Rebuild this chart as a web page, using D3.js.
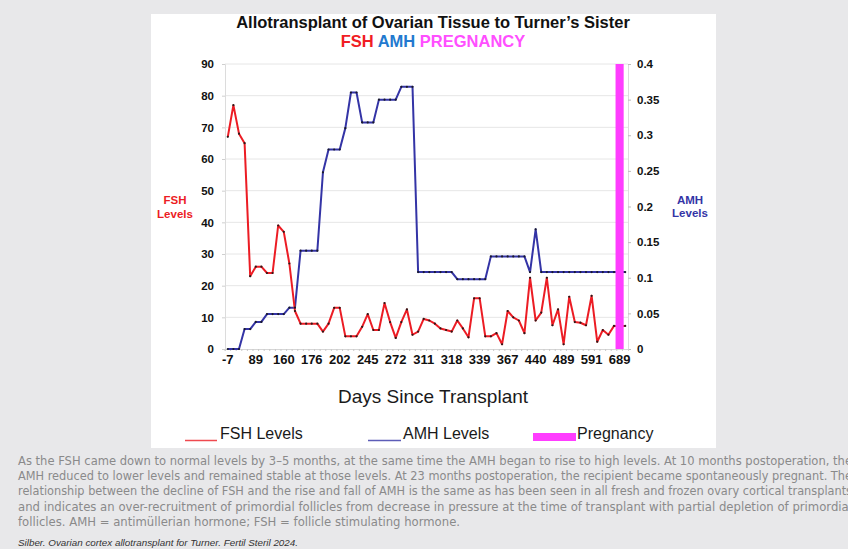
<!DOCTYPE html>
<html><head><meta charset="utf-8">
<script src="https://cdn.jsdelivr.net/npm/d3@7"></script>
<style>
html,body{margin:0;padding:0;background:#e8e8ea;}
svg{display:block;}
</style></head><body>
<svg id="c" width="848" height="549"></svg>
<script>
// ---- data ----
const dayLabels = ["-7","89","160","176","202","245","272","311","318","339","367","440","489","591","689"];
const labelIndex = [0,5,10,15,20,25,30,35,40,45,50,55,60,65,70];
const fshLevels = [67,77,68,65,23,26,26,24,24,39,
  37,27,12,8,8,8,8,5.5,8,13,
  13,4,4,4,7,11,6,6,14.5,8.5,
  3.5,8.5,12.5,4.5,5.5,9.5,9,8,6.5,6,
  5.5,9,6.5,3.7,16,16,4,4,5,1.5,
  12,10,9,5,22.5,9,11.5,22.5,7.5,12.5,
  1.5,16.5,8.5,8.3,7.5,16.8,2.3,6,4.5,7.3,
  7.3,7.3];
const amhLevels = [0,0,0,0.028,0.028,0.038,0.038,0.049,0.049,0.049,
  0.049,0.058,0.058,0.138,0.138,0.138,0.138,0.248,0.28,0.28,
  0.28,0.31,0.36,0.36,0.318,0.318,0.318,0.35,0.35,0.35,
  0.35,0.368,0.368,0.368,0.108,0.108,0.108,0.108,0.108,0.108,
  0.108,0.098,0.098,0.098,0.098,0.098,0.098,0.13,0.13,0.13,
  0.13,0.13,0.13,0.13,0.108,0.168,0.108,0.108,0.108,0.108,
  0.108,0.108,0.108,0.108,0.108,0.108,0.108,0.108,0.108,0.108,
  0.108,0.108];
const pregnancyIndex = [70];
const pregnancyLevel = [90];
const fshTicks = [0,10,20,30,40,50,60,70,80,90];
const amhTicks = [0,0.05,0.1,0.15,0.2,0.25,0.3,0.35,0.4];
const captionLines = [
 "As the FSH came down to normal levels by 3–5 months, at the same time the AMH began to rise to high levels. At 10 months postoperation, the",
 "AMH reduced to lower levels and remained stable at those levels. At 23 months postoperation, the recipient became spontaneously pregnant. The",
 "relationship between the decline of FSH and the rise and fall of AMH is the same as has been seen in all fresh and frozen ovary cortical transplants",
 "and indicates an over-recruitment of primordial follicles from decrease in pressure at the time of transplant with partial depletion of primordial",
 "follicles. AMH = antimüllerian hormone; FSH = follicle stimulating hormone."
];
const captionWidths = [834, 834, 834, 834, 442];
const citation = "Silber. Ovarian cortex allotransplant for Turner. Fertil Steril 2024.";

// ---- drawing ----
const FONT = "'Liberation Sans', Arial, Helvetica, sans-serif";
const FSH_C = "#ec1c24", AMH_C = "#3434a6", PREG_C = "#ff3dff";
const svg = d3.select("#c");
const P = {l:225, r:628, t:64, b:349};

svg.append("rect").attr("x",151).attr("y",14).attr("width",565).attr("height",434).attr("fill","#fff");

const cats = d3.range(fshLevels.length);
const x = d3.scaleBand().domain(cats).range([P.l, P.r]).padding(0);
const cx = i => x(i) + x.bandwidth()/2;
const yL = d3.scaleLinear().domain([0,90]).range([P.b, P.t]);
const yR = d3.scaleLinear().domain([0,0.4]).range([P.b, P.t]);

// gridlines
svg.append("g").selectAll("line").data(fshTicks.filter(d=>d>0)).join("line")
  .attr("x1",P.l).attr("x2",P.r).attr("y1",d=>yL(d)).attr("y2",d=>yL(d))
  .attr("stroke","#e6e6e6").attr("stroke-width",1);

// left axis
const gl = svg.append("g").attr("transform",`translate(${P.l},0)`)
  .call(d3.axisLeft(yL).tickValues(fshTicks).tickSize(3).tickPadding(8).tickFormat(d3.format("d")));
gl.select(".domain").attr("stroke","#dcdcdc");
gl.selectAll(".tick line").attr("stroke","#cfcfcf");
gl.selectAll("text").attr("font-family",FONT).attr("font-weight","bold").attr("font-size","11.5px").attr("fill","#111");

// right axis
const gr = svg.append("g").attr("transform",`translate(${P.r},0)`)
  .call(d3.axisRight(yR).tickValues(amhTicks).tickSize(3).tickPadding(6).tickFormat(d=>String(+d.toFixed(2))));
gr.select(".domain").attr("stroke","#dcdcdc");
gr.selectAll(".tick line").attr("stroke","#bdbdbd");
gr.selectAll("text").attr("font-family",FONT).attr("font-weight","bold").attr("font-size","11.5px").attr("fill","#111");

// bottom axis: category ticks
const gt = svg.append("g").attr("transform",`translate(0,${P.b})`)
  .call(d3.axisBottom(x).tickValues(cats).tickSize(2).tickFormat(""));
gt.select(".domain").attr("stroke","#d6d6d6");
gt.selectAll(".tick line").attr("stroke","#c8c8c8").attr("transform",`translate(${-x.bandwidth()/2},0)`);

const gb = svg.append("g").attr("transform",`translate(0,${P.b})`)
  .call(d3.axisBottom(x).tickValues(labelIndex).tickSize(0)
    .tickFormat(i=>dayLabels[labelIndex.indexOf(i)]));
gb.select(".domain").remove();
gb.selectAll("text").attr("y",15).attr("dy","0").attr("font-family",FONT)
  .attr("font-weight","bold").attr("font-size","13px").attr("fill","#111");

// lines
const lineF = d3.line().x((d,i)=>cx(i)).y(d=>yL(d));
const lineA = d3.line().x((d,i)=>cx(i)).y(d=>yR(d));
svg.append("path").datum(amhLevels).attr("d",lineA).attr("fill","none")
  .attr("stroke",AMH_C).attr("stroke-width",2).attr("stroke-linejoin","round");
svg.append("path").datum(fshLevels).attr("d",lineF).attr("fill","none")
  .attr("stroke",FSH_C).attr("stroke-width",2).attr("stroke-linejoin","round");
// markers
svg.append("g").selectAll("circle").data(amhLevels).join("circle")
  .attr("cx",(d,i)=>cx(i)).attr("cy",d=>yR(d)).attr("r",1.1).attr("fill","#1a1a2a");
svg.append("g").selectAll("circle").data(fshLevels).join("circle")
  .attr("cx",(d,i)=>cx(i)).attr("cy",d=>yL(d)).attr("r",1.1).attr("fill","#2a1a1a");

// pregnancy bar
const bw = x.bandwidth()*1.45;
svg.append("g").selectAll("rect").data(pregnancyIndex).join("rect")
  .attr("x",i=>cx(i)-bw/2).attr("width",bw)
  .attr("y",(i,k)=>yL(pregnancyLevel[k])).attr("height",(i,k)=>yL(0)-yL(pregnancyLevel[k]))
  .attr("fill",PREG_C);

// titles
svg.append("text").attr("x",433).attr("y",28).attr("text-anchor","middle")
  .attr("font-family",FONT).attr("font-weight","bold").attr("font-size","16.5px").attr("fill","#111")
  .text("Allotransplant of Ovarian Tissue to Turner’s Sister");
const sub = svg.append("text").attr("x",433).attr("y",47).attr("text-anchor","middle")
  .attr("font-family",FONT).attr("font-weight","bold").attr("font-size","16.5px");
sub.append("tspan").attr("fill","#f01d24").text("FSH ");
sub.append("tspan").attr("fill","#2279cf").text("AMH ");
sub.append("tspan").attr("fill","#ff4fff").text("PREGNANCY");

// axis titles (separate texts so lines do not overlap)
const tFont = {family:FONT, size:"11.5px"};
[["FSH",204],["Levels",217.5]].forEach(([t,yy])=>{
  svg.append("text").attr("x",175).attr("y",yy).attr("text-anchor","middle")
    .attr("font-family",tFont.family).attr("font-weight","bold").attr("font-size",tFont.size)
    .attr("fill",FSH_C).text(t);
});
[["AMH",203.5],["Levels",217]].forEach(([t,yy])=>{
  svg.append("text").attr("x",690).attr("y",yy).attr("text-anchor","middle")
    .attr("font-family",tFont.family).attr("font-weight","bold").attr("font-size",tFont.size)
    .attr("fill",AMH_C).text(t);
});

svg.append("text").attr("x",433).attr("y",403).attr("text-anchor","middle")
  .attr("font-family",FONT).attr("font-size","19px").attr("fill","#1a1a1a")
  .text("Days Since Transplant");

// legend
const lg = svg.append("g").attr("font-family",FONT).attr("font-size","16px").attr("fill","#1a1a1a");
lg.append("line").attr("x1",185).attr("x2",217).attr("y1",440.5).attr("y2",440.5).attr("stroke",FSH_C).attr("stroke-width",1.5).attr("opacity",0.8);
lg.append("text").attr("x",220).attr("y",439).text("FSH Levels");
lg.append("line").attr("x1",368).attr("x2",401).attr("y1",440.5).attr("y2",440.5).attr("stroke",AMH_C).attr("stroke-width",1.5).attr("opacity",0.8);
lg.append("text").attr("x",403).attr("y",439).text("AMH Levels");
lg.append("rect").attr("x",533).attr("y",433).attr("width",43).attr("height",8).attr("fill",PREG_C);
lg.append("text").attr("x",577).attr("y",439).text("Pregnancy");

// caption
const cap = svg.append("g").attr("font-family","'Liberation Sans Narrow','DejaVu Sans Condensed','Liberation Sans',sans-serif")
  .attr("font-size","12.5px").attr("fill","#8a8a8a");
cap.selectAll("text").data(captionLines).join("text")
  .attr("x",18).attr("y",(d,i)=>465+i*15.2)
  .attr("textLength",(d,i)=>captionWidths[i]).attr("lengthAdjust","spacingAndGlyphs")
  .text(d=>d);
svg.append("text").attr("x",18).attr("y",546).attr("font-family",FONT).attr("font-style","italic")
  .attr("font-size","8.5px").attr("fill","#333").attr("textLength",280).attr("lengthAdjust","spacingAndGlyphs")
  .text(citation);
</script>
</body></html>
